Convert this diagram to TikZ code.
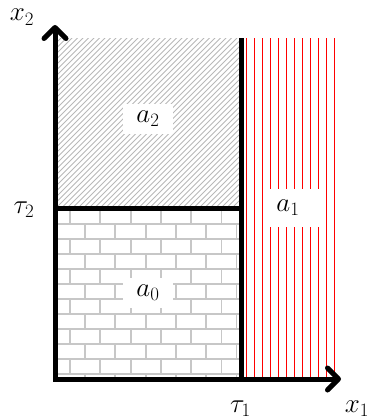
\RequirePackage{fix-cm}
\documentclass[tikz,border=0pt]{standalone}
\usetikzlibrary{arrows.meta}
\begin{document}
\begin{tikzpicture}[x=1pt,y=-1pt, font=\fontsize{27}{32}\selectfont,
  hatch/.style={black!28, line width=0.9pt},
  brick/.style={black!22, line width=1.8pt},
  redline/.style={red, line width=0.9pt},
  thickline/.style={line width=5pt},
  lab/.style={fill=white, inner sep=0pt, minimum width=50pt, minimum height=30pt},
  axlab/.style={anchor=base, inner sep=0pt}]
\useasboundingbox (0,0) rectangle (375,420);
% hatched region a2
\begin{scope}
  \clip (55,38.5) rectangle (241.5,208.5);
  \foreach \c in {88,93.5,...,460} \draw[hatch] (\c-215,215) -- (\c-30,30);
\end{scope}
% bricks region a0
\begin{scope}
  \clip (55,208.5) rectangle (241.5,379);
  \foreach \k in {0,...,11} \draw[brick] (55,209+15*\k) -- (242,209+15*\k);
  \foreach \m in {0,...,5} {
    \foreach \j in {0,...,5} {
      \draw[brick] (70+30.3*\j,209+30*\m) -- ++(0,15);
      \draw[brick] (85+30.3*\j,224+30*\m) -- ++(0,15);
    }
  }
\end{scope}
% red lines region a1
\foreach \i in {0,...,11} \draw[redline] (246+8*\i,38.5) -- (246+8*\i,379);
% labels
\node[lab] (A2) at (148,119) {$a_2$};
\node[lab] (A0) at (148,293) {$a_0$};
\fill[white] (266,189) rectangle (322,227);
\node[inner sep=0pt] (A1) at (288,208) {$a_1$};
% boundaries
\coordinate (T1top) at (241.5,38.5);
\coordinate (T1bot) at (241.5,379);
\coordinate (T2l) at (55,208.5);
\coordinate (T2r) at (241.5,208.5);
\draw[thickline] (T1top) -- (T1bot);
\draw[thickline] (T2l) -- (T2r);
% axes
\coordinate (O) at (55,379);
\coordinate (XE) at (341,379);
\coordinate (YE) at (55,25);
\draw[thickline, line join=miter,
  {Straight Barb[length=11pt,width=22pt,round]}-{Straight Barb[length=11pt,width=22pt,round]}]
  (XE) -- (O) -- (YE);
% axis labels
\node[axlab] (X2) at (22,21) {$x_2$};
\node[axlab] (Tau2) at (24,213) {$\tau_2$};
\node[axlab] (Tau1) at (240.5,412) {$\tau_1$};
\node[axlab] (X1) at (357,412) {$x_1$};
\end{tikzpicture}
\end{document}
